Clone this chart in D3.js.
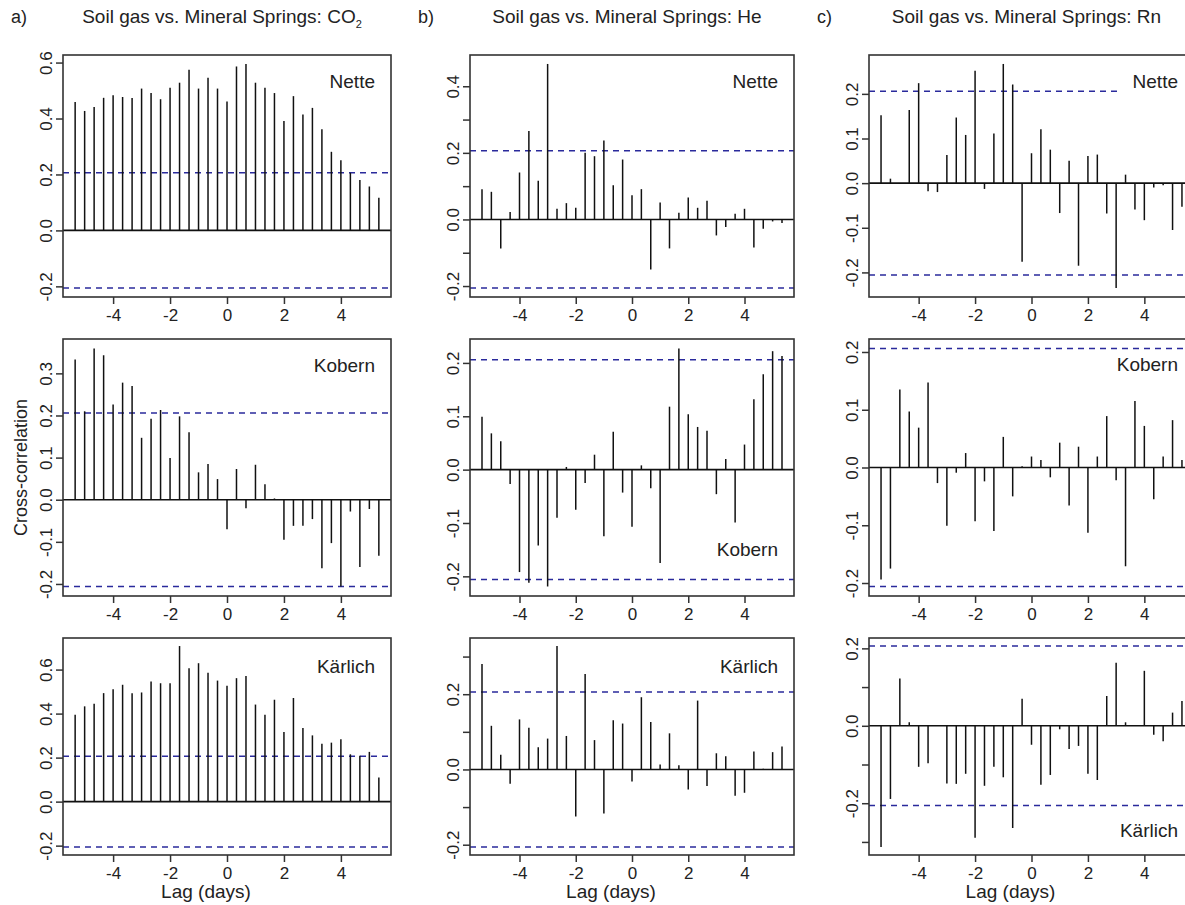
<!DOCTYPE html>
<html>
<head>
<meta charset="utf-8">
<script src="https://cdn.jsdelivr.net/npm/d3@7"></script>
<style>
  body { margin: 0; background: #fff; }
  svg { display: block; font-family: "Liberation Sans", Arial, sans-serif; }
</style>
</head>
<body>
<svg width="1185" height="905"></svg>
<script>

// lag in hours (step 8 h = 1/3 day)
var lagHours = [
  -128, -120, -112, -104, -96, -88, -80, -72, -64, -56, -48, -40, -32, -24, -16, -8,
  0, 8, 16, 24, 32, 40, 48, 56, 64, 72, 80, 88, 96, 104, 112, 120, 128
];

var co2Nette = [0.459, 0.427, 0.441, 0.474, 0.483, 0.477, 0.473, 0.507, 0.491, 0.469,
  0.510, 0.528, 0.574, 0.507, 0.546, 0.507, 0.461, 0.586, 0.595, 0.528,
  0.510, 0.491, 0.391, 0.480, 0.414, 0.438, 0.362, 0.281, 0.251, 0.206,
  0.180, 0.157, 0.117];
var co2Kobern = [0.333, 0.210, 0.359, 0.343, 0.226, 0.278, 0.270, 0.147, 0.192, 0.213,
  0.099, 0.198, 0.160, 0.065, 0.085, 0.049, -0.070, 0.073, -0.020, 0.083,
  0.037, 0.003, -0.095, -0.062, -0.062, -0.046, -0.163, -0.103, -0.206, -0.028,
  -0.160, -0.022, -0.133];
var co2Karlich = [0.395, 0.433, 0.445, 0.493, 0.511, 0.531, 0.493, 0.496, 0.546, 0.538,
  0.538, 0.707, 0.606, 0.629, 0.586, 0.550, 0.526, 0.561, 0.571, 0.441,
  0.395, 0.463, 0.316, 0.471, 0.335, 0.301, 0.263, 0.268, 0.283, 0.215,
  0.208, 0.226, 0.110];

var heNette = [0.091, 0.083, -0.087, 0.022, 0.141, 0.266, 0.116, 0.467, 0.032, 0.049,
  0.035, 0.200, 0.190, 0.237, 0.103, 0.180, 0.073, 0.091, -0.150, 0.051,
  -0.087, 0.020, 0.066, 0.035, 0.056, -0.048, -0.023, 0.017, 0.032, -0.084,
  -0.028, -0.006, -0.011];
var heKobern = [0.099, 0.068, 0.053, -0.027, -0.192, -0.212, -0.142, -0.219, -0.090, 0.005,
  -0.075, -0.025, 0.028, -0.125, 0.071, -0.043, -0.107, 0.008, -0.035, -0.175,
  0.118, 0.227, 0.104, 0.080, 0.073, -0.046, 0.020, -0.099, 0.047, 0.132,
  0.179, 0.222, 0.213];
var heKarlich = [0.280, 0.116, 0.039, -0.038, 0.133, 0.111, 0.059, 0.082, 0.328, 0.089,
  -0.125, 0.254, 0.078, -0.117, 0.131, 0.122, -0.032, 0.192, 0.126, 0.013,
  0.096, 0.011, -0.053, 0.183, -0.044, 0.043, 0.035, -0.070, -0.062, 0.048,
  0.002, 0.046, 0.061];

var rnNette = [0.152, 0.010, -0.002, 0.164, 0.224, -0.018, -0.020, 0.063, 0.147, 0.108,
  0.252, -0.013, 0.111, 0.267, 0.221, -0.176, 0.067, 0.121, 0.075, -0.067,
  0.050, -0.185, 0.061, 0.064, -0.068, -0.235, 0.019, -0.059, -0.083, -0.010,
  -0.005, -0.105, -0.053];
var rnKobern = [-0.194, -0.175, 0.135, 0.097, 0.069, 0.147, -0.027, -0.101, -0.009, 0.025,
  -0.093, -0.024, -0.110, 0.053, -0.050, 0.002, 0.019, 0.013, -0.017, 0.043,
  -0.066, 0.036, -0.113, 0.019, 0.089, -0.022, -0.171, 0.115, 0.072, -0.055,
  0.019, 0.082, 0.013];
var rnKarlich = [-0.313, -0.189, 0.122, 0.009, -0.106, -0.097, 0.000, -0.149, -0.150, -0.124,
  -0.289, -0.155, -0.106, -0.133, -0.264, 0.070, -0.049, -0.152, -0.127, -0.009,
  -0.060, -0.052, -0.124, -0.140, 0.077, 0.163, 0.009, 0.000, 0.142, -0.023,
  -0.040, 0.034, 0.064];

// 95% confidence bound
var ciBound = 0.206;

var columnLetters = ["a)", "b)", "c)"];
var columnGases = ["CO", "He", "Rn"];
var siteNames = ["Nette", "Kobern", "Kärlich"];
var xTickValues = [-4, -2, 0, 2, 4];

var panelValues = [
  [co2Nette, co2Kobern, co2Karlich],
  [heNette, heKobern, heKarlich],
  [rnNette, rnKobern, rnKarlich]
];

// y ticks (all) and which of them carry a label
var panelTicks = [
  [[-0.2, 0, 0.2, 0.4, 0.6], [-0.2, -0.1, 0, 0.1, 0.2, 0.3], [-0.2, 0, 0.2, 0.4, 0.6]],
  [[-0.2, -0.1, 0, 0.1, 0.2, 0.3, 0.4], [-0.2, -0.1, 0, 0.1, 0.2], [-0.2, -0.1, 0, 0.1, 0.2, 0.3]],
  [[-0.2, -0.1, 0, 0.1, 0.2], [-0.2, -0.1, 0, 0.1, 0.2], [-0.3, -0.2, -0.1, 0, 0.1, 0.2]]
];
var panelTickLabels = [
  [[-0.2, 0, 0.2, 0.4, 0.6], [-0.2, -0.1, 0, 0.1, 0.2, 0.3], [-0.2, 0, 0.2, 0.4, 0.6]],
  [[-0.2, 0, 0.2, 0.4], [-0.2, -0.1, 0, 0.1, 0.2], [-0.2, 0, 0.2]],
  [[-0.2, -0.1, 0, 0.1, 0.2], [-0.2, -0.1, 0, 0.1, 0.2], [-0.2, 0, 0.2]]
];

// layout
var columns = [
  {left: 63, right: 391},
  {left: 470, right: 794},
  {left: 869, right: 1194}
];
var rows = [
  {top: 55, bottom: 297},
  {top: 339, bottom: 596},
  {top: 638, bottom: 855}
];
// where the site name sits (offset from top, or negative = from bottom)
var sitePos = [
  [33, 33, 35],
  [33, -40, 35],
  [33, 32, -18]
];

var svg = d3.select("svg");
var textColor = "#222";
var ciColor = "#2a2a9c";

var lagDays = lagHours.map(function(h) { return h / 24; });

var drawPanel = function(ci, ri) {
  let values = panelValues[ci][ri];
  let col = columns[ci];
  let row = rows[ri];

  let lagExt = d3.extent(lagDays);
  let xPad = (lagExt[1] - lagExt[0]) * 0.04;
  let x = d3.scaleLinear()
    .domain([lagExt[0] - xPad, lagExt[1] + xPad])
    .range([col.left, col.right]);

  let lo = Math.min(d3.min(values), -ciBound);
  let hi = Math.max(d3.max(values), ciBound);
  let yPad = (hi - lo) * 0.04;
  let y = d3.scaleLinear()
    .domain([lo - yPad, hi + yPad])
    .range([row.bottom, row.top]);

  let clipId = "clip" + ci + ri;
  svg.append("clipPath").attr("id", clipId)
    .append("rect")
    .attr("x", col.left).attr("y", row.top)
    .attr("width", col.right - col.left)
    .attr("height", row.bottom - row.top);

  let g = svg.append("g");
  let plot = g.append("g").attr("clip-path", "url(#" + clipId + ")");

  // zero line
  plot.append("line")
    .attr("x1", col.left).attr("x2", col.right)
    .attr("y1", y(0)).attr("y2", y(0))
    .attr("stroke", "#111").attr("stroke-width", 1.6);

  // confidence bounds
  plot.selectAll("line.ci")
    .data([ciBound, -ciBound])
    .enter().append("line")
    .attr("class", "ci")
    .attr("x1", col.left).attr("x2", col.right)
    .attr("y1", function(d) { return y(d); })
    .attr("y2", function(d) { return y(d); })
    .attr("stroke", ciColor)
    .attr("stroke-width", 1.5)
    .attr("stroke-dasharray", "6,5");

  // spikes
  plot.selectAll("line.bar")
    .data(values)
    .enter().append("line")
    .attr("class", "bar")
    .attr("x1", function(d, i) { return x(lagDays[i]); })
    .attr("x2", function(d, i) { return x(lagDays[i]); })
    .attr("y1", y(0))
    .attr("y2", function(d) { return y(d); })
    .attr("stroke", "#111")
    .attr("stroke-width", 1.5);

  // site label, white background like an R legend
  let off = sitePos[ci][ri];
  let labelY = off > 0 ? row.top + off : row.bottom + off;
  let lab = g.append("g");
  let bg = lab.append("rect").attr("fill", "#fff");
  let txt = lab.append("text")
    .attr("x", col.right - 16)
    .attr("y", labelY)
    .attr("text-anchor", "end")
    .style("font-size", "19px")
    .attr("fill", textColor)
    .text(siteNames[ri]);
  let bb = txt.node().getBBox();
  bg.attr("x", bb.x - 14).attr("y", bb.y + 2)
    .attr("width", col.right - bb.x + 13).attr("height", bb.height - 2);

  // box
  g.append("rect")
    .attr("x", col.left).attr("y", row.top)
    .attr("width", col.right - col.left)
    .attr("height", row.bottom - row.top)
    .attr("fill", "none")
    .attr("stroke", "#333")
    .attr("stroke-width", 1.6);

  // x axis
  let xAxis = d3.axisBottom(x)
    .tickValues(xTickValues)
    .tickSize(7)
    .tickPadding(5)
    .tickFormat(function(d) { return String(d); });
  let xg = g.append("g")
    .attr("transform", "translate(0," + row.bottom + ")")
    .call(xAxis);
  xg.select(".domain").remove();
  xg.selectAll("line").attr("stroke", "#333").attr("stroke-width", 1.5);
  xg.selectAll("text")
    .style("font-size", "17px")
    .style("font-family", "Liberation Sans, Arial, sans-serif")
    .attr("fill", textColor);

  // y axis
  let labels = panelTickLabels[ci][ri];
  let yAxis = d3.axisLeft(y)
    .tickValues(panelTicks[ci][ri])
    .tickSize(7)
    .tickFormat(function(d) {
      return labels.indexOf(d) >= 0 ? d.toFixed(1) : "";
    });
  let yg = g.append("g")
    .attr("transform", "translate(" + col.left + ",0)")
    .call(yAxis);
  yg.select(".domain").remove();
  yg.selectAll("line").attr("stroke", "#333").attr("stroke-width", 1.5);
  yg.selectAll("text")
    .attr("x", null).attr("dy", null)
    .attr("text-anchor", "middle")
    .attr("transform", "translate(-11,0) rotate(-90)")
    .style("font-size", "17px")
    .style("font-family", "Liberation Sans, Arial, sans-serif")
    .attr("fill", textColor);

  if (ri == 2) {
    svg.append("text")
      .attr("x", (col.left + col.right) / 2 - 21)
      .attr("y", 898)
      .attr("text-anchor", "middle")
      .style("font-size", "19px")
      .attr("fill", textColor)
      .text("Lag (days)");
  }
};

for (let ci = 0; ci < 3; ci++) {
  for (let ri = 0; ri < 3; ri++) {
    drawPanel(ci, ri);
  }

  let col = columns[ci];
  svg.append("text")
    .attr("x", col.left - 52)
    .attr("y", 23)
    .style("font-size", "18px")
    .attr("fill", textColor)
    .text(columnLetters[ci]);

  let title = svg.append("text")
    .attr("x", (col.left + col.right) / 2 - 5)
    .attr("y", 23)
    .attr("text-anchor", "middle")
    .style("font-size", "19px")
    .attr("fill", textColor)
    .text("Soil gas vs. Mineral Springs: " + columnGases[ci]);
  if (ci == 0) {
    title.append("tspan")
      .attr("dy", 5)
      .style("font-size", "11px")
      .text("2");
  }
}

svg.append("text")
  .attr("transform", "translate(27," + (rows[1].top + rows[1].bottom) / 2 + ") rotate(-90)")
  .attr("text-anchor", "middle")
  .style("font-size", "18px")
  .attr("fill", textColor)
  .text("Cross-correlation");

</script>
</body>
</html>
